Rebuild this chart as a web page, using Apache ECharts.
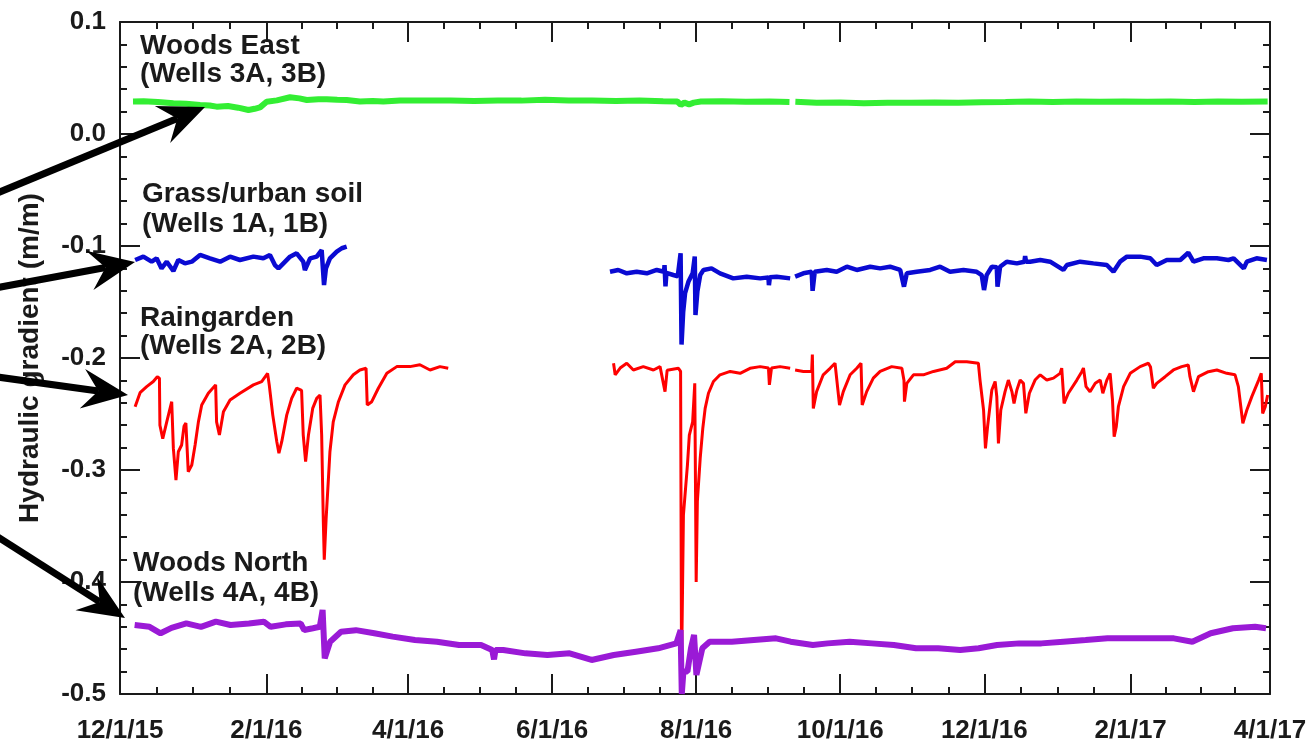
<!DOCTYPE html>
<html>
<head>
<meta charset="utf-8">
<script src="https://cdn.jsdelivr.net/npm/echarts@6/dist/echarts.min.js"></script>
<style>
  html, body { margin: 0; background: #fff; }
  #chart { width: 1316px; height: 744px; }
</style>
</head>
<body>
<div id="chart"></div>
<script>
// x values are days since 12/1/15
const tickDays = [0, 62, 122, 183, 244, 305, 366, 428, 487];
const tickLabels = ['12/1/15', '2/1/16', '4/1/16', '6/1/16', '8/1/16', '10/1/16', '12/1/16', '2/1/17', '4/1/17'];

const woodsEast = [
  [5.5, 0.029], [10, 0.0292], [16, 0.0285], [22.6, 0.0274], [28, 0.027], [33.9, 0.0259], [38, 0.0255],
  [40.9, 0.0244], [45.7, 0.025], [50, 0.0235], [54.4, 0.0214], [57, 0.0225], [59.3, 0.0238], [62.1, 0.0288],
  [66.4, 0.030], [72, 0.0328], [76, 0.0318], [79.1, 0.0304], [84, 0.031], [87.5, 0.031], [92, 0.0305],
  [96, 0.0304], [101.6, 0.029], [107, 0.0295], [111.5, 0.029], [118.6, 0.030], [125, 0.0298], [132.6, 0.030],
  [140, 0.030], [150, 0.0295], [160, 0.030], [170, 0.0298], [180, 0.0305], [190, 0.030], [200, 0.0298],
  [210, 0.0295], [220, 0.030], [230, 0.0292], [236, 0.029], [237.5, 0.026], [239, 0.028], [241, 0.0265],
  [243, 0.028], [246, 0.029], [255, 0.0292], [265, 0.0288], [275, 0.029], [283.5, 0.0285], [284.8, null],
  [286, 0.0288], [295, 0.028], [305, 0.0282], [315, 0.0275], [325, 0.028], [335, 0.0278], [345, 0.0282],
  [355, 0.028], [365, 0.0283], [375, 0.0285], [385, 0.029], [395, 0.0285], [405, 0.029], [415, 0.0288],
  [425, 0.029], [435, 0.0288], [445, 0.029], [455, 0.0285], [465, 0.029], [475, 0.0288], [486, 0.029]
];

const grassUrban = [
  [6.4, -0.1125], [9.9, -0.1095], [13.4, -0.114], [15.5, -0.111], [17.6, -0.12], [19.8, -0.114], [22.6, -0.1223],
  [24.7, -0.1125], [27.5, -0.1155], [30.4, -0.114], [33.9, -0.108], [38.1, -0.111], [42.4, -0.114], [46.6, -0.1095],
  [50.8, -0.1125], [56.5, -0.1095], [60.7, -0.111], [63.5, -0.108], [65.6, -0.117], [67.1, -0.12], [69.2, -0.1155],
  [72, -0.1095], [74.8, -0.1065], [77.6, -0.114], [78.3, -0.1215], [80.5, -0.111], [83.3, -0.1095], [85.4, -0.1036],
  [86.4, -0.1348], [87.2, -0.12], [88.9, -0.111], [91.8, -0.105], [93.9, -0.102], [96, -0.1006],
  [150, null],
  [207.5, -0.123], [211, -0.1214], [214.6, -0.1244], [218.8, -0.123], [223.1, -0.1244], [227.3, -0.1214],
  [230.4, -0.123], [230.6, -0.117], [231, -0.136], [231.4, -0.124], [234.3, -0.1259], [236.2, -0.127],
  [237.4, -0.1065], [237.8, -0.188], [238.5, -0.1587], [239.3, -0.142], [240.7, -0.132], [242.5, -0.1244],
  [243.4, -0.1095], [243.7, -0.1616], [244.5, -0.1408], [245.7, -0.1259], [247.1, -0.1214], [250.5, -0.12],
  [254.1, -0.1244], [259.7, -0.1289], [265.4, -0.1274], [271.1, -0.1289], [274.6, -0.128], [274.8, -0.135],
  [275.2, -0.128], [278.1, -0.1274], [283.8, -0.1289], [284.8, null], [285.9, -0.1274], [289.4, -0.1244],
  [292.9, -0.123], [293.3, -0.14], [294.2, -0.123], [299.3, -0.1214], [303.5, -0.123], [307.8, -0.1185],
  [312, -0.1214], [317.7, -0.1185], [321.9, -0.12], [326.1, -0.1185], [330.4, -0.1214], [332, -0.1363],
  [333.2, -0.1244], [337.4, -0.123], [343.1, -0.1214], [347.3, -0.1185], [351.5, -0.123], [357.2, -0.1214],
  [362.8, -0.123], [364.9, -0.1259], [365.9, -0.1393], [367, -0.126], [369.2, -0.1185], [371.3, -0.119],
  [371.6, -0.1363], [372.7, -0.1185], [375.5, -0.114], [379.8, -0.1155], [383, -0.114], [383.3, -0.109],
  [383.7, -0.114], [385.4, -0.114], [389.7, -0.1125], [393.9, -0.114], [399.5, -0.1214], [401, -0.117],
  [406.6, -0.114], [412.2, -0.1155], [417.9, -0.117], [420.7, -0.123], [423.5, -0.114], [426.4, -0.1095],
  [432, -0.1095], [436.3, -0.111], [439, -0.117], [443.3, -0.1125], [449, -0.1125], [452.4, -0.106],
  [454.6, -0.114], [458.8, -0.111], [464.5, -0.111], [469.4, -0.1125], [471.6, -0.111], [475.9, -0.12],
  [477.2, -0.114], [481.3, -0.111], [485.7, -0.1125]
];

const raingarden = [
  [6.4, -0.2435], [8.5, -0.231], [11.3, -0.2256], [14.1, -0.221], [15.8, -0.2167], [16.7, -0.218], [16.9, -0.26],
  [18.1, -0.272], [19.8, -0.257], [21.9, -0.239], [22.6, -0.2807], [23.7, -0.309], [24.7, -0.2837], [26.1, -0.2777],
  [27.1, -0.261], [27.9, -0.258], [28.9, -0.3015], [30.4, -0.2955], [31.8, -0.2777], [33.2, -0.257], [34.6, -0.242],
  [37.4, -0.2315], [40.5, -0.224], [40.9, -0.257], [42.1, -0.2688], [43.8, -0.248], [46.6, -0.2375], [50.8, -0.2315],
  [56.5, -0.224], [60, -0.221], [62.5, -0.2137], [63.2, -0.224], [64.7, -0.251], [66.4, -0.2747], [67.3, -0.285],
  [68.5, -0.2747], [70.6, -0.251], [72.7, -0.236], [74.8, -0.227], [76.9, -0.229], [77.6, -0.2688], [78.6, -0.2926],
  [79.8, -0.2688], [81.6, -0.245], [83.3, -0.236], [84.7, -0.233], [85.4, -0.2688], [86.1, -0.346], [86.5, -0.38],
  [87.3, -0.343], [88.2, -0.31], [88.9, -0.2837], [90.3, -0.257], [92.5, -0.239], [95.3, -0.224], [98.8, -0.215],
  [101.6, -0.2107], [104.2, -0.2092], [104.7, -0.242], [106.6, -0.239], [109.4, -0.227], [113, -0.2137],
  [117.2, -0.2077], [122.8, -0.2077], [127, -0.206], [131.3, -0.2107], [135.5, -0.2077], [139, -0.2092],
  [150, null],
  [209, -0.2047], [209.7, -0.215], [211.8, -0.209], [214.6, -0.2047], [217.4, -0.2107], [221.6, -0.2077],
  [225.9, -0.2107], [228.7, -0.2077], [230.8, -0.23], [231.7, -0.211], [236.5, -0.2092], [237.4, -0.212],
  [237.8, -0.48], [238.6, -0.34], [240.3, -0.2955], [241.1, -0.2688], [242.5, -0.257], [243.4, -0.2226],
  [244, -0.40], [244.5, -0.328], [245.7, -0.2896], [246.8, -0.2628], [247.8, -0.245], [249.2, -0.2315],
  [251.3, -0.221], [254.1, -0.215], [258.4, -0.212], [262.6, -0.2137], [266.8, -0.2092], [271.1, -0.2077],
  [274.6, -0.209], [275, -0.224], [275.9, -0.209], [279.5, -0.2077], [283.8, -0.2092], [284.8, null],
  [285.9, -0.2107], [289.4, -0.212], [292.9, -0.212], [293.2, -0.197], [293.6, -0.245], [295, -0.23],
  [297.8, -0.215], [300.7, -0.2092], [302.8, -0.2047], [303.3, -0.206], [304.7, -0.242], [306.3, -0.23],
  [309.2, -0.215], [312, -0.2092], [313.8, -0.2047], [314.3, -0.242], [316.2, -0.23], [319, -0.218],
  [321.9, -0.212], [326.8, -0.2077], [331.1, -0.2092], [332, -0.22], [332.2, -0.239], [333.2, -0.2226],
  [336, -0.215], [340.2, -0.215], [344.5, -0.212], [350.1, -0.2092], [353.7, -0.2033], [358.6, -0.2033],
  [363.5, -0.2047], [364.2, -0.2197], [365.7, -0.2464], [366.5, -0.2807], [367.4, -0.2613], [369.2, -0.2286],
  [370.6, -0.221], [371.3, -0.2345], [372, -0.2762], [373, -0.2464], [374.8, -0.23], [376.2, -0.2197],
  [377.7, -0.23], [378.6, -0.2405], [379.8, -0.2286], [381.2, -0.2197], [382.6, -0.2226], [383.6, -0.2494],
  [385.1, -0.2315], [387.5, -0.2197], [389.7, -0.215], [392.5, -0.2197], [395.3, -0.218], [398.1, -0.2137],
  [398.8, -0.209], [399.8, -0.2405], [401.6, -0.2315], [405.2, -0.2197], [407.3, -0.2122], [408, -0.209],
  [409.1, -0.2256], [410.8, -0.2301], [413, -0.2226], [415.1, -0.2197], [416.2, -0.2315], [417.9, -0.2197],
  [419.3, -0.2137], [420.3, -0.2375], [421, -0.2703], [421.9, -0.2613], [422.8, -0.2435], [425, -0.2256],
  [427.8, -0.2137], [432, -0.2077], [435.5, -0.2047], [436.4, -0.208], [437.6, -0.227], [439, -0.2226],
  [442.6, -0.2167], [446.1, -0.2107], [449.6, -0.2077], [452.4, -0.2062], [453.1, -0.2167], [454.6, -0.2301],
  [456.7, -0.2167], [460.9, -0.2122], [464.5, -0.2107], [468.7, -0.2137], [472.2, -0.215], [473.6, -0.2256],
  [475.5, -0.2583], [477.2, -0.2464], [479.3, -0.2345], [482.2, -0.2197], [483.3, -0.2137], [483.9, -0.2494],
  [485, -0.2435], [486, -0.233]
];

const woodsNorth = [
  [6.2, -0.4384], [12.5, -0.44], [17.2, -0.4458], [21.8, -0.441], [28.1, -0.437], [34.3, -0.44], [40.6, -0.4354],
  [46.8, -0.4384], [54.6, -0.437], [60.9, -0.4354], [63.8, -0.44], [70.2, -0.4378], [76.5, -0.437], [78, -0.4429],
  [81.7, -0.4413], [84.6, -0.44], [85.8, -0.425], [86.7, -0.4682], [89, -0.4533], [93.6, -0.4444], [99.9, -0.443],
  [107.7, -0.4458], [115.5, -0.4488], [124.9, -0.4518], [134.2, -0.4533], [143.6, -0.4563], [152.9, -0.4563],
  [157.6, -0.4607], [158.4, -0.469], [159, -0.4607], [162.3, -0.4607], [171.7, -0.4637], [181, -0.4652],
  [190.4, -0.4637], [199.7, -0.4696], [209.1, -0.4652], [218.5, -0.4622], [227.9, -0.4592], [235.6, -0.4548],
  [237.4, -0.443], [237.9, -0.5], [238.6, -0.48], [240.3, -0.48], [241.8, -0.459], [243.1, -0.4473], [244.1, -0.483],
  [246.6, -0.4592], [249.7, -0.4533], [259.1, -0.4533], [268.4, -0.4518], [277.8, -0.4503], [284, -0.4533],
  [293.4, -0.4563], [299.7, -0.4548], [309, -0.4533], [318.4, -0.4548], [327.7, -0.4563], [337.1, -0.4592],
  [346.5, -0.4592], [355.8, -0.4607], [363.6, -0.4592], [371.4, -0.4563], [380.8, -0.4548], [390.2, -0.4548],
  [399.5, -0.4533], [408.9, -0.4518], [418.2, -0.4503], [427.6, -0.4503], [437, -0.4503], [446.3, -0.4503],
  [454.1, -0.4533], [461.9, -0.4458], [471.3, -0.4413], [480.7, -0.44], [485.3, -0.4413]
];

// minor ticks: quarters between the 2-month major ticks
const minorDays = [];
for (let i = 0; i < tickDays.length - 1; i++) {
  const a = tickDays[i], b = tickDays[i + 1];
  for (let k = 1; k < 4; k++) minorDays.push(a + (b - a) * k / 4);
}

const ink = '#1a1a1a';
const labelFont = 'Liberation Sans';
const axisLineStyle = { color: ink, width: 2 };

function xAxisDef(position, values, len, withLabels, withLine) {
  return {
    type: 'value',
    position: position,
    min: 0,
    max: 487,
    axisLine: { show: withLine, onZero: false, lineStyle: axisLineStyle },
    axisTick: { show: true, inside: true, length: len, customValues: values, lineStyle: axisLineStyle },
    axisLabel: withLabels ? {
      show: true,
      customValues: values,
      formatter: (v) => tickLabels[tickDays.indexOf(v)] || '',
      color: ink,
      fontFamily: labelFont,
      fontWeight: 'bold',
      fontSize: 26,
      margin: 24
    } : { show: false },
    splitLine: { show: false }
  };
}

function yAxisDef(position, withLabels) {
  return {
    type: 'value',
    position: position,
    min: -0.5,
    max: 0.1,
    interval: 0.1,
    axisLine: { show: true, onZero: false, lineStyle: axisLineStyle },
    axisTick: { show: true, inside: true, length: 20, lineStyle: axisLineStyle },
    minorTick: { show: true, splitNumber: 5, length: 7, lineStyle: axisLineStyle },
    axisLabel: withLabels ? {
      show: true,
      formatter: (v) => { const s = v.toFixed(1); return s === '-0.0' ? '0.0' : s; },
      color: ink,
      fontFamily: labelFont,
      fontWeight: 'bold',
      fontSize: 26,
      margin: 14
    } : { show: false },
    splitLine: { show: false },
    minorSplitLine: { show: false },
    name: withLabels ? 'Hydraulic gradient (m/m)' : '',
    nameLocation: 'middle',
    nameGap: 76,
    nameTextStyle: { color: ink, fontFamily: labelFont, fontWeight: 'bold', fontSize: 28 }
  };
}

function lineSeries(name, data, color, width) {
  return {
    name: name,
    type: 'line',
    data: data,
    symbol: 'none',
    connectNulls: false,
    lineStyle: { color: color, width: width, join: 'bevel' },
    emphasis: { disabled: true },
    z: 3
  };
}

// thick black annotation arrows (pixel positions, they sit partly outside the plot)
function arrow(x0, y0, x1, y1) {
  const dx = x1 - x0, dy = y1 - y0;
  const len = Math.hypot(dx, dy);
  const ux = dx / len, uy = dy / len;
  const px = -uy, py = ux;
  const head = 46, half = 20, notch = 30;
  const bx = x1 - ux * head, by = y1 - uy * head;
  const nx = x1 - ux * notch, ny = y1 - uy * notch;
  return [
    { type: 'line', z: 100, shape: { x1: x0, y1: y0, x2: nx, y2: ny }, style: { stroke: '#000', lineWidth: 7 } },
    { type: 'polygon', z: 100, shape: { points: [[x1, y1], [bx + px * half, by + py * half], [nx, ny], [bx - px * half, by - py * half]] }, style: { fill: '#000' } }
  ];
}

function note(x, y, text) {
  return { type: 'text', z: 90, x: x, y: y, style: { text: text, fill: ink, font: 'bold 28px "Liberation Sans"', verticalAlign: 'middle', align: 'left' } };
}

const chart = echarts.init(document.getElementById('chart'), null, { renderer: 'canvas' });

chart.setOption({
  animation: false,
  backgroundColor: '#fff',
  grid: { left: 120, right: 46, top: 22, bottom: 50, containLabel: false, outerBoundsMode: 'none' },
  xAxis: [
    xAxisDef('bottom', tickDays, 20, true, true),
    xAxisDef('bottom', minorDays, 7, false, false),
    xAxisDef('top', tickDays, 20, false, true),
    xAxisDef('top', minorDays, 7, false, false)
  ],
  yAxis: [yAxisDef('left', true), yAxisDef('right', false)],
  series: [
    lineSeries('Woods East', woodsEast, '#33ee33', 6),
    lineSeries('Grass/urban soil', grassUrban, '#0a0ad2', 4.5),
    lineSeries('Raingarden', raingarden, '#ff0000', 3),
    lineSeries('Woods North', woodsNorth, '#9a1ad6', 6)
  ],
  graphic: [
    note(140, 46, 'Woods East'),
    note(140, 74, '(Wells 3A, 3B)'),
    note(142, 194, 'Grass/urban soil'),
    note(142, 224, '(Wells 1A, 1B)'),
    note(140, 318, 'Raingarden'),
    note(140, 346, '(Wells 2A, 2B)'),
    note(133, 563, 'Woods North'),
    note(133, 593, '(Wells 4A, 4B)'),
    ...arrow(-10, 196, 205, 107),
    ...arrow(-10, 289, 135, 262),
    ...arrow(-10, 376, 128, 395),
    ...arrow(-10, 532, 125, 618)
  ]
});
</script>
</body>
</html>
